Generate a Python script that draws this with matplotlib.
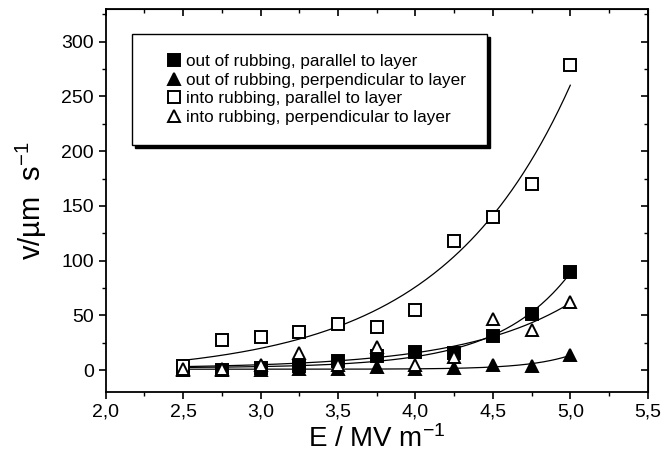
import numpy as np
import matplotlib
matplotlib.use("Agg")
import matplotlib.pyplot as plt
from matplotlib.ticker import MultipleLocator

plt.rcParams['font.family'] = ['Liberation Sans', 'DejaVu Sans']
plt.rcParams['mathtext.fontset'] = 'custom'
plt.rcParams['mathtext.rm'] = 'Liberation Sans'
plt.rcParams['mathtext.default'] = 'regular'

# Data
E = [2.5, 2.75, 3.0, 3.25, 3.5, 3.75, 4.0, 4.25, 4.5, 4.75, 5.0]
out_par = [0, 0, 2, 4, 8, 13, 17, 16, 31, 51, 90]
out_perp = [0, 0, 0, 1, 1, 3, 1, 2, 5, 4, 14]
into_par = [4, 28, 30, 35, 42, 39, 55, 118, 140, 170, 279]
into_perp = [1, 1, 5, 16, 5, 21, 5, 12, 47, 37, 62]

labels = ['out of rubbing, parallel to layer',
          'out of rubbing, perpendicular to layer',
          'into rubbing, parallel to layer',
          'into rubbing, perpendicular to layer']

growth = [None, None, 0.84, None]

x_ticks = [2.0, 2.5, 3.0, 3.5, 4.0, 4.5, 5.0, 5.5]
x_ticklabels = ['2,0', '2,5', '3,0', '3,5', '4,0', '4,5', '5,0', '5,5']
y_ticks = [0, 50, 100, 150, 200, 250, 300]


# exponential fit y = y0 + A*exp(x/t)
def exp_fit(x, y, t_fixed=None):
    x = np.asarray(x, float)
    y = np.asarray(y, float)
    grid = [t_fixed] if t_fixed else np.linspace(0.15, 3.0, 600)
    best = None
    for t in grid:
        M = np.column_stack([np.ones_like(x), np.exp(x / t)])
        coef, *_ = np.linalg.lstsq(M, y, rcond=None)
        sse = np.sum((M @ coef - y) ** 2)
        if best is None or sse < best[0]:
            best = (sse, t, coef)
    _, t, coef = best
    return lambda xx: coef[0] + coef[1] * np.exp(xx / t)


fig = plt.figure(figsize=(6.65, 4.69), dpi=100)
ax = fig.add_axes([0.159, 0.164, 0.815, 0.817])

series = [
    (out_par, dict(marker='s', mfc='black', mec='black')),
    (out_perp, dict(marker='^', mfc='black', mec='black')),
    (into_par, dict(marker='s', mfc='white', mec='black')),
    (into_perp, dict(marker='^', mfc='white', mec='black')),
]

xs = np.linspace(2.5, 5.0, 200)
for (vals, style), lab, t in zip(series, labels, growth):
    f = exp_fit(E, vals, t)
    ax.plot(xs, f(xs), color='black', lw=0.9, zorder=2)
    ax.plot(E, vals, linestyle='none', ms=8.5, mew=1.4, label=lab, zorder=3, **style)

ax.set_xlim(2.0, 5.5)
ax.set_ylim(-20, 330)
ax.set_xticks(x_ticks)
ax.set_xticklabels(x_ticklabels)
ax.set_yticks(y_ticks)
ax.xaxis.set_minor_locator(MultipleLocator(0.25))
ax.yaxis.set_minor_locator(MultipleLocator(25))
ax.tick_params(which='major', direction='out', length=5, width=1.2, labelsize=14)
ax.tick_params(which='minor', direction='out', length=3, width=1.0)
for s in ax.spines.values():
    s.set_linewidth(1.3)

# mirrored ticks pointing inward on top and right
top = ax.secondary_xaxis('top')
top.set_xticks(x_ticks)
top.xaxis.set_minor_locator(MultipleLocator(0.25))
top.tick_params(which='major', direction='in', length=5, width=1.2, labeltop=False)
top.tick_params(which='minor', direction='in', length=3, width=1.0)
right = ax.secondary_yaxis('right')
right.set_yticks(y_ticks)
right.yaxis.set_minor_locator(MultipleLocator(25))
right.tick_params(which='major', direction='in', length=5, width=1.2, labelright=False)
right.tick_params(which='minor', direction='in', length=3, width=1.0)

ax.set_xlabel('E / MV m$^{-1}$', fontsize=20, labelpad=3)
ax.set_ylabel('v/µm  s$^{-1}$', fontsize=21, labelpad=9)

leg = ax.legend(loc='upper left', bbox_to_anchor=(0.048, 0.935), fontsize=12.3,
                frameon=True, fancybox=False, shadow={'color': 'black', 'alpha': 1},
                edgecolor='black', framealpha=1, borderpad=1.2,
                labelspacing=0.2, handletextpad=-0.6, handlelength=2.6,
                borderaxespad=0)
leg.get_frame().set_linewidth(1.0)
for h in leg.legend_handles:
    h.set_markersize(8)

fig.savefig('out.png', dpi=100)
